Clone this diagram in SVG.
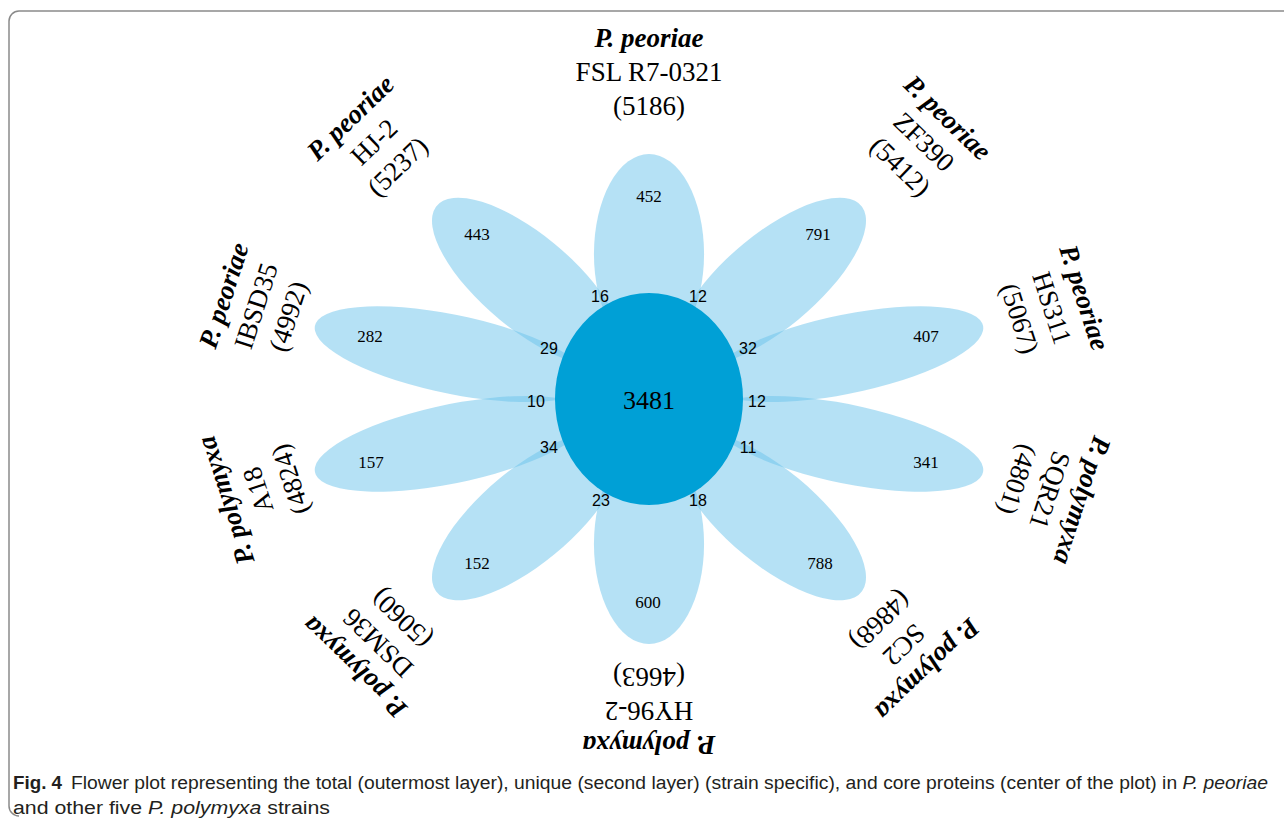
<svg xmlns="http://www.w3.org/2000/svg" width="1284" height="829" viewBox="0 0 1284 829">
<style>
.petal{fill:#6cc4ec;fill-opacity:0.5}
.core{fill:#00a0d6}
.lab{font-family:"Liberation Serif",serif;font-size:27px;fill:#000;text-anchor:middle}
.sp{font-weight:bold;font-style:italic}
.pn{font-family:"Liberation Serif",serif;font-size:17px;fill:#000;text-anchor:middle}
.ix{font-family:"Liberation Sans",Arial,sans-serif;font-size:16px;fill:#000;text-anchor:middle}
.cap{font-family:"Liberation Sans Narrow","Liberation Sans",sans-serif;font-size:18px;fill:#231f20}
</style>
<rect width="1284" height="829" fill="#fff"/>
<path d="M1284,11 H19 A10,10 0 0 0 9,21 V806 A10,10 0 0 0 19,816" fill="none" stroke="#8a8a8a" stroke-width="1.5"/>
<g id="petals" transform="translate(649,399) scale(1.43,1)">
<ellipse class="petal" cx="0" cy="-145" rx="38.5" ry="100" transform="rotate(0)"/>
<ellipse class="petal" cx="0" cy="-145" rx="38.5" ry="100" transform="rotate(36)"/>
<ellipse class="petal" cx="0" cy="-145" rx="38.5" ry="100" transform="rotate(72)"/>
<ellipse class="petal" cx="0" cy="-145" rx="38.5" ry="100" transform="rotate(108)"/>
<ellipse class="petal" cx="0" cy="-145" rx="38.5" ry="100" transform="rotate(144)"/>
<ellipse class="petal" cx="0" cy="-145" rx="38.5" ry="100" transform="rotate(180)"/>
<ellipse class="petal" cx="0" cy="-145" rx="38.5" ry="100" transform="rotate(216)"/>
<ellipse class="petal" cx="0" cy="-145" rx="38.5" ry="100" transform="rotate(252)"/>
<ellipse class="petal" cx="0" cy="-145" rx="38.5" ry="100" transform="rotate(288)"/>
<ellipse class="petal" cx="0" cy="-145" rx="38.5" ry="100" transform="rotate(324)"/>
</g>
<g id="core"><ellipse class="core" cx="649" cy="399" rx="94" ry="106"/>
<text class="pn" x="649" y="409" style="font-size:26px">3481</text></g>
<g id="unique">
<text class="pn" x="649" y="202">452</text>
<text class="pn" x="818" y="240">791</text>
<text class="pn" x="926" y="342">407</text>
<text class="pn" x="926" y="468">341</text>
<text class="pn" x="820" y="569">788</text>
<text class="pn" x="648" y="608">600</text>
<text class="pn" x="477" y="569">152</text>
<text class="pn" x="371" y="468">157</text>
<text class="pn" x="370" y="342">282</text>
<text class="pn" x="477" y="240">443</text>
</g>
<g id="shared">
<text class="ix" x="600" y="302">16</text>
<text class="ix" x="698" y="302">12</text>
<text class="ix" x="748" y="354">32</text>
<text class="ix" x="757" y="407">12</text>
<text class="ix" x="748" y="453">11</text>
<text class="ix" x="698" y="506">18</text>
<text class="ix" x="601" y="506">23</text>
<text class="ix" x="549" y="453">34</text>
<text class="ix" x="536" y="407">10</text>
<text class="ix" x="549" y="354">29</text>
</g>
<g id="label-FSL" transform="translate(649,72) rotate(0)">
<text class="lab sp" y="-25">P. peoriae</text><text class="lab" y="9">FSL R7-0321</text><text class="lab" y="43">(5186)</text></g>
<g id="label-ZF390" transform="translate(924,142) rotate(44)">
<text class="lab sp" y="-25">P. peoriae</text><text class="lab" y="9">ZF390</text><text class="lab" y="43">(5412)</text></g>
<g id="label-HS311" transform="translate(1052,308) rotate(72)">
<text class="lab sp" y="-25">P. peoriae</text><text class="lab" y="9">HS311</text><text class="lab" y="43">(5067)</text></g>
<g id="label-SQR21" transform="translate(1050,490) rotate(108)">
<text class="lab sp" y="-25">P. polymyxa</text><text class="lab" y="9">SQR21</text><text class="lab" y="43">(4801)</text></g>
<g id="label-SC2" transform="translate(904,645) rotate(136)">
<text class="lab sp" y="-25">P. polymyxa</text><text class="lab" y="9">SC2</text><text class="lab" y="43">(4868)</text></g>
<g id="label-HY96-2" transform="translate(649,711) rotate(180)">
<text class="lab sp" y="-25">P. polymyxa</text><text class="lab" y="9">HY96-2</text><text class="lab" y="43">(4663)</text></g>
<g id="label-DSM36" transform="translate(378,643) rotate(224)">
<text class="lab sp" y="-25">P. polymyxa</text><text class="lab" y="9">DSM36</text><text class="lab" y="43">(5060)</text></g>
<g id="label-A18" transform="translate(258,490) rotate(252)">
<text class="lab sp" y="-25">P. polymyxa</text><text class="lab" y="9">A18</text><text class="lab" y="43">(4824)</text></g>
<g id="label-IBSD35" transform="translate(256,306) rotate(288)">
<text class="lab sp" y="-25">P. peoriae</text><text class="lab" y="9">IBSD35</text><text class="lab" y="43">(4992)</text></g>
<g id="label-HJ-2" transform="translate(374,142) rotate(316)">
<text class="lab sp" y="-25">P. peoriae</text><text class="lab" y="9">HJ-2</text><text class="lab" y="43">(5237)</text></g>
<g id="caption">
<text class="cap" x="13" y="789" font-weight="bold" textLength="49" lengthAdjust="spacingAndGlyphs">Fig. 4</text>
<text class="cap" x="71" y="789" textLength="1197" lengthAdjust="spacingAndGlyphs">Flower plot representing the total (outermost layer), unique (second layer) (strain specific), and core proteins (center of the plot) in <tspan font-style="italic">P. peoriae</tspan></text>
<text class="cap" x="13" y="814" textLength="317" lengthAdjust="spacingAndGlyphs">and other five <tspan font-style="italic">P. polymyxa</tspan> strains</text>
</g>
</svg>
